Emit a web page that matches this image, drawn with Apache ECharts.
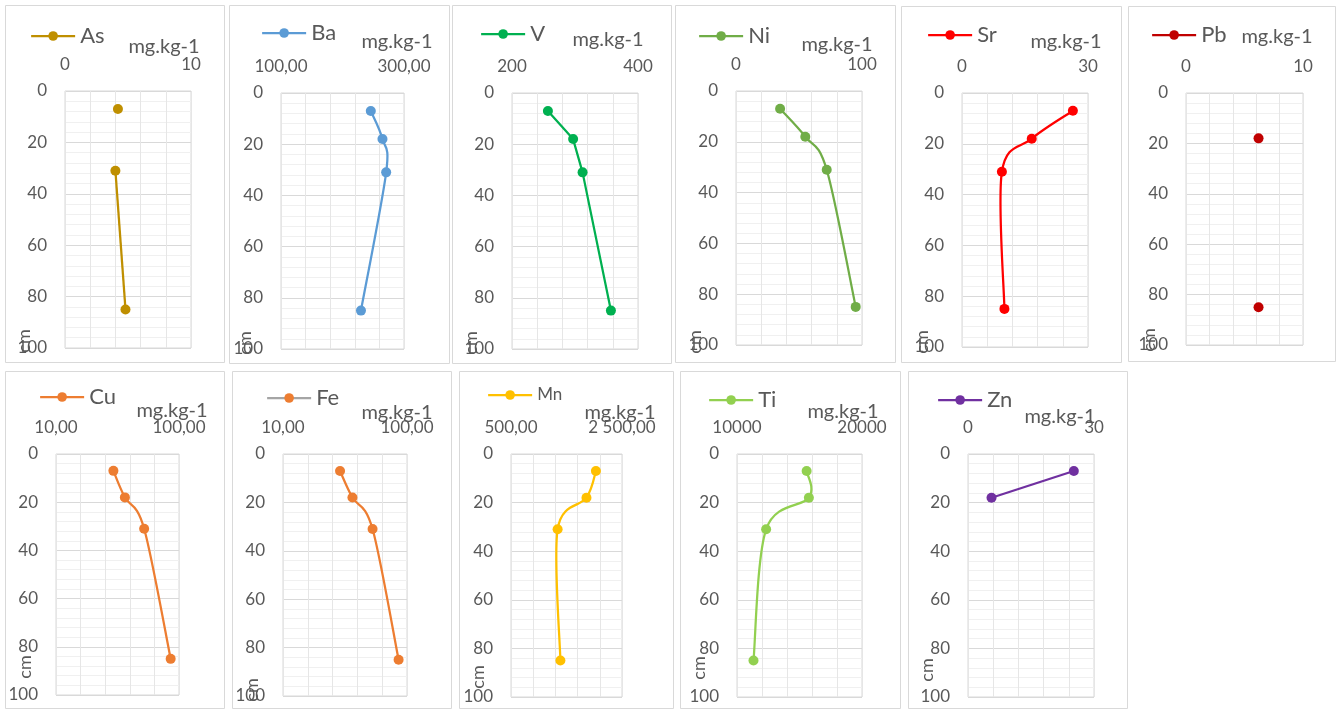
<!DOCTYPE html>
<html>
<head>
<meta charset="utf-8">
<script src="https://cdn.jsdelivr.net/npm/echarts@6/dist/echarts.min.js"></script>
<style>
  html, body { margin: 0; padding: 0; background: #ffffff; }
  #chart { width: 1338px; height: 711px; }
</style>
</head>
<body>
<div id="chart"></div>
<script>
// ---------------- DATA ----------------
const depths = [7, 18, 31, 85];              // cm
const depthTicks = [0, 20, 40, 60, 80, 100];  // y axis labels
const unitLabel = 'mg.kg-1';
const depthLabel = 'cm';

const elementNames = ['As', 'Ba', 'V', 'Ni', 'Sr', 'Pb', 'Cu', 'Fe', 'Mn', 'Ti', 'Zn'];

const asValues = [4.2, null, 4.0, 4.8];
const baValues = [246, 265, 271, 230];
const vValues  = [257, 297, 312, 357];
const niValues = [35, 55, 72, 95];
const srValues = [26.4, 16.6, 9.5, 10.1];
const pbValues = [null, 6.2, null, 6.2];
const cuValues = [52, 60.4, 74.5, 93.9];
const feValues = [51.4, 60.4, 75, 93.9];
const mnValues = [2030, 1860, 1340, 1390];
const tiValues = [15570, 15750, 12330, 11320];
const znValues = [25.2, 5.6, null, null];

const elementValues = [asValues, baValues, vValues, niValues, srValues, pbValues,
                       cuValues, feValues, mnValues, tiValues, znValues];

const xMins = [0, 100, 200, 0, 0, 0, 10, 10, 500, 10000, 0];
const xMaxs = [10, 300, 400, 100, 30, 10, 100, 100, 2500, 20000, 30];
const xMinLabels = ['0', '100,00', '200', '0', '0', '0', '10,00', '10,00', '500,00', '10000', '0'];
const xMaxLabels = ['10', '300,00', '400', '100', '30', '10', '100,00', '100,00', '2 500,00', '20000', '30'];

// ---------------- STYLE / LAYOUT ----------------
const colors = ['#BF8F00', '#5B9BD5', '#00B050', '#70AD47', '#FF0000', '#C00000',
                '#ED7D31', '#ED7D31', '#FFC000', '#92D050', '#7030A0'];
const legendLineColors = [null, null, null, null, null, null, null, '#A5A5A5', null, null, null];
const smoothFlags = [false, true, false, true, true, false, true, true, true, true, false];

// panel frame [x, y, w, h]
const panels = [
  [5, 5, 219, 357], [229, 5, 220, 358], [452, 5, 219, 358], [675, 5, 220, 357],
  [901, 6, 220, 356], [1128, 6, 207, 355],
  [5, 371, 219, 337], [232, 371, 219, 337], [459, 371, 214, 337], [680, 371, 220, 337], [908, 371, 219, 337]
];
// plot area [x, y, w, h]
const grids = [
  [65, 91, 126, 257], [281, 93, 123, 256], [512, 93, 126, 256], [736, 91, 126, 254],
  [962, 93, 126, 254], [1186, 93, 117, 252],
  [56, 454, 123, 241], [283, 454, 124, 242], [511, 454, 111, 243], [737, 454, 125, 243], [968, 454, 126, 243]
];
// legend [lineStartX, centerY, fontSize]
const legends = [
  [30, 36, 22], [261, 33, 22], [480, 34, 22], [698, 36, 22], [927, 35, 22], [1151, 35, 22],
  [39, 397, 22], [266, 398, 22], [487, 395, 17], [708, 400, 22], [937, 400, 22]
];
// unit text centre [x, y]
const unitPos = [
  [164, 47], [397, 42], [608, 40], [837, 45], [1066, 42], [1277, 37],
  [172, 411], [397, 413], [620, 413], [843, 412], [1060, 417]
];
// depth title centre [x, y]
const cmPos = [
  [24, 341], [245, 343], [471, 343], [695, 342], [922, 342], [1149, 340],
  [25, 667], [252, 690], [478, 677], [699, 668], [927, 670]
];

const FONT = 'Lato, "Open Sans", "Liberation Sans", sans-serif';
const TXT = '#595959';
const LINE_W = 2.25;

// ---------------- BUILD ----------------
const option = {
  animation: false,
  backgroundColor: '#ffffff',
  grid: [], xAxis: [], yAxis: [], series: [], legend: [], graphic: []
};

// Smooth curve (Catmull-Rom style, as the spreadsheet draws it) through the points,
// positioned with the axis scales via api.coord.
function makeSmoothRenderer(vals, color) {
  return function (params, api) {
    const k = params.dataIndex;
    const pts = depths.map((d, j) => (vals[j] === null ? null : api.coord([vals[j], d])));
    if (!pts[k] || !pts[k + 1]) return null;
    const p1 = pts[k], p2 = pts[k + 1];
    const p0 = pts[k - 1] || p1;
    const p3 = pts[k + 2] || p2;
    return {
      type: 'bezierCurve',
      shape: {
        x1: p1[0], y1: p1[1], x2: p2[0], y2: p2[1],
        cpx1: p1[0] + (p2[0] - p0[0]) / 6, cpy1: p1[1] + (p2[1] - p0[1]) / 6,
        cpx2: p2[0] - (p3[0] - p1[0]) / 6, cpy2: p2[1] - (p3[1] - p1[1]) / 6
      },
      style: { stroke: color, lineWidth: LINE_W, fill: null, lineCap: 'round' }
    };
  };
}

elementNames.forEach((name, i) => {
  const p = panels[i];
  option.graphic.push({
    type: 'rect', silent: true, z: -1,
    shape: { x: p[0] + 0.5, y: p[1] + 0.5, width: p[2], height: p[3] },
    style: { fill: 'none', stroke: '#D9D9D9', lineWidth: 1 }
  });

  const g = grids[i];
  option.grid.push({
    left: g[0], top: g[1], width: g[2], height: g[3],
    show: true, borderColor: '#D9D9D9', borderWidth: 1, backgroundColor: 'transparent'
  });

  const mn = xMins[i], mx = xMaxs[i];
  const mnLab = xMinLabels[i], mxLab = xMaxLabels[i];
  option.xAxis.push({
    type: 'value', gridIndex: i, position: 'top',
    min: mn, max: mx, interval: (mx - mn) / 5,
    axisLine: { show: false }, axisTick: { show: false },
    splitLine: { show: true, lineStyle: { color: '#E6E6E6', width: 1 } },
    axisLabel: {
      show: true, margin: 18, color: TXT, fontSize: 17, fontFamily: FONT,
      showMinLabel: true, showMaxLabel: true, hideOverlap: false,
      formatter: function (v) {
        if (Math.abs(v - mn) < 1e-9) return mnLab;
        if (Math.abs(v - mx) < 1e-9) return mxLab;
        return '';
      }
    }
  });

  option.yAxis.push({
    type: 'value', gridIndex: i, inverse: true,
    min: depthTicks[0], max: depthTicks[depthTicks.length - 1],
    interval: depthTicks[1] - depthTicks[0],
    axisLine: { show: false }, axisTick: { show: false },
    minorTick: { show: false, splitNumber: 5 },
    splitLine: { show: true, lineStyle: { color: '#D9D9D9', width: 1 } },
    minorSplitLine: { show: true, lineStyle: { color: '#F0F0F0', width: 1 } },
    axisLabel: {
      show: true, margin: 18, color: TXT, fontSize: 17, fontFamily: FONT,
      showMinLabel: true, showMaxLabel: true, hideOverlap: false
    }
  });

  const vals = elementValues[i];
  const pointData = depths.map((d, k) => [vals[k] === null ? '-' : vals[k], d]);
  const smooth = smoothFlags[i];

  // markers (and straight connecting line where the profile is not smoothed)
  option.series.push({
    name: name, type: 'line',
    xAxisIndex: i, yAxisIndex: i,
    data: pointData,
    smooth: false,
    connectNulls: false,
    symbol: 'circle', symbolSize: 10, showSymbol: true, showAllSymbol: true,
    clip: false, z: 3,
    lineStyle: { color: colors[i], width: LINE_W, opacity: smooth ? 0 : 1 },
    itemStyle: { color: colors[i] },
    emphasis: { disabled: true }
  });

  if (smooth) {
    option.series.push({
      name: name + ' (curve)', type: 'custom',
      xAxisIndex: i, yAxisIndex: i,
      coordinateSystem: 'cartesian2d',
      data: pointData,
      encode: { x: 0, y: 1 },
      z: 2, silent: true, clip: false,
      renderItem: makeSmoothRenderer(vals, colors[i])
    });
  }

  const lg = legends[i];
  const legendItem = {
    name: name,
    itemStyle: { color: colors[i] },
    lineStyle: { color: legendLineColors[i] || colors[i], width: LINE_W, opacity: 1 }
  };
  option.legend.push({
    show: true, left: lg[0], top: lg[1] - lg[2] / 2, padding: 0,
    itemWidth: 44, itemHeight: 12, orient: 'horizontal',
    selectedMode: false,
    textStyle: { color: TXT, fontSize: lg[2], fontFamily: FONT },
    data: [legendItem]
  });

  const u = unitPos[i];
  option.graphic.push({
    type: 'text', silent: true, x: u[0], y: u[1],
    style: { text: unitLabel, fill: TXT, font: '20px ' + FONT, textAlign: 'center', textVerticalAlign: 'middle' }
  });

  const c = cmPos[i];
  option.graphic.push({
    type: 'text', silent: true, x: c[0], y: c[1], rotation: Math.PI / 2,
    style: { text: depthLabel, fill: TXT, font: '18px ' + FONT, textAlign: 'center', textVerticalAlign: 'middle' }
  });
});

const chart = echarts.init(document.getElementById('chart'), null, { renderer: 'canvas' });
chart.setOption(option);
</script>
</body>
</html>
